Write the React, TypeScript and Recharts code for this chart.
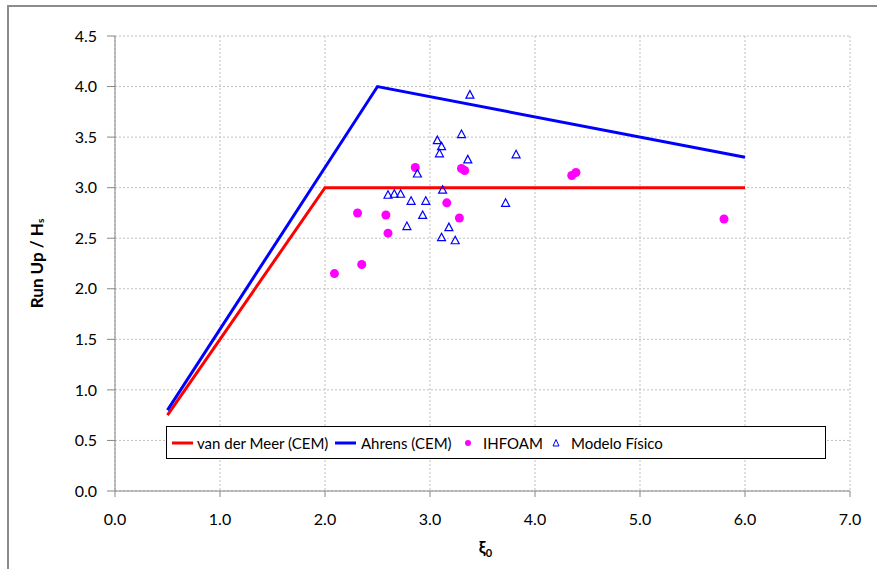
import React from 'react'
import {
  ScatterChart,
  Scatter,
  XAxis,
  YAxis,
  CartesianGrid
} from 'recharts'

// design curves (xi0, R/Hs)
const vanDerMeerX = [0.5, 2.0, 6.0]
const vanDerMeerY = [0.75, 3.0, 3.0]
const ahrensX = [0.5, 2.5, 6.0]
const ahrensY = [0.8, 4.0, 3.3]

// numerical results
const ihfoamX = [2.86, 3.30, 3.33, 2.31, 2.58, 3.16, 3.28, 2.60, 2.09, 2.35, 4.39, 4.35, 5.80]
const ihfoamY = [3.20, 3.19, 3.17, 2.75, 2.73, 2.85, 2.70, 2.55, 2.15, 2.24, 3.15, 3.12, 2.69]

// physical model
const fisicoX = [3.38, 3.30, 3.07, 3.11, 3.09, 3.82, 3.36, 2.88, 3.12, 2.60, 2.66, 2.72, 2.82, 2.96, 3.72, 2.93, 2.78, 3.18, 3.11, 3.24]
const fisicoY = [3.92, 3.53, 3.47, 3.41, 3.34, 3.33, 3.28, 3.14, 2.98, 2.93, 2.94, 2.94, 2.87, 2.87, 2.85, 2.73, 2.62, 2.61, 2.51, 2.48]

const xTicks = [0, 1, 2, 3, 4, 5, 6, 7]
const yTicks = [0, 0.5, 1, 1.5, 2, 2.5, 3, 3.5, 4, 4.5]

const zip = (xs: number[], ys: number[]) => xs.map((x, i) => ({ x, y: ys[i] }))

const FONT = 'Lato, "Open Sans", sans-serif'
const AXIS_GRAY = '#868686'

const Triangle = (props: any) => {
  const { cx, cy } = props
  if (cx == null || cy == null) return <g />
  return (
    <polygon
      points={`${cx},${cy - 4} ${cx - 4},${cy + 3.5} ${cx + 4},${cy + 3.5}`}
      fill="none"
      stroke="#0000ff"
      strokeWidth={1.2}
    />
  )
}

const Dot = (props: any) => {
  const { cx, cy } = props
  if (cx == null || cy == null) return <g />
  return <circle cx={cx} cy={cy} r={4.5} fill="#ff00ff" />
}

const NoShape = () => <g />

const YTitle = (props: any) => {
  const { viewBox } = props
  const cy = viewBox.y + viewBox.height / 2
  const cx = 36
  return (
    <text
      x={cx}
      y={cy}
      transform={`rotate(-90 ${cx} ${cy})`}
      textAnchor="middle"
      dominantBaseline="central"
      fontFamily={FONT}
      fontWeight="bold"
      fontSize={17}
      fill="#000"
    >
      Run Up / H<tspan fontSize={10} dy={4}>s</tspan>
    </text>
  )
}

const XTitle = (props: any) => {
  const { viewBox } = props
  const cx = viewBox.x + viewBox.width / 2 + 3
  return (
    <text
      x={cx}
      y={553}
      textAnchor="middle"
      fontFamily={FONT}
      fontWeight="bold"
      fontSize={17}
      fill="#000"
    >
      ξ<tspan fontSize={11} dy={4}>0</tspan>
    </text>
  )
}

const item = (left: number): React.CSSProperties => ({
  position: 'absolute',
  left,
  top: '50%',
  transform: 'translateY(-50%)',
  whiteSpace: 'nowrap'
})

const LegendBox = () => (
  <div
    style={{
      position: 'absolute',
      left: 166,
      top: 426,
      border: '1px solid #000',
      background: '#fff',
      height: 33,
      width: 660,
      boxSizing: 'border-box',
      fontFamily: FONT,
      fontSize: 15,
      color: '#000'
    }}
  >
    <span style={{ ...item(5), width: 21, height: 3, background: '#ff0000' }} />
    <span style={item(30)}>van der Meer (CEM)</span>
    <span style={{ ...item(168), width: 21, height: 3, background: '#0000ff' }} />
    <span style={item(194)}>Ahrens (CEM)</span>
    <svg width={10} height={10} style={item(296)}>
      <circle cx={5} cy={5} r={3} fill="#ff00ff" />
    </svg>
    <span style={item(316)}>IHFOAM</span>
    <svg width={10} height={10} style={item(384)}>
      <polygon points="5,1.5 2,8 8,8" fill="none" stroke="#0000ff" strokeWidth={1} />
    </svg>
    <span style={item(404)}>Modelo Físico</span>
  </div>
)

export default function App() {
  return (
    <div style={{ position: 'absolute', left: 0, top: 0, width: 877, height: 569, overflow: 'hidden', background: '#fff' }}>
      <div
        style={{
          position: 'absolute',
          left: 7,
          top: 5,
          width: 900,
          height: 600,
          border: '2px solid #8c8c8c'
        }}
      />
      <div style={{ position: 'absolute', left: 0, top: 0 }}>
        <ScatterChart width={877} height={569} margin={{ top: 36, right: 27, bottom: 10, left: 40 }}>
          <CartesianGrid stroke="#bfbfbf" strokeDasharray="2 2" />
          <XAxis
            type="number"
            dataKey="x"
            domain={[0, 7]}
            ticks={xTicks}
            interval={0}
            tickFormatter={(v: number) => v.toFixed(1)}
            height={68}
            stroke={AXIS_GRAY}
            tickSize={6}
            tickMargin={17}
            tick={{ fill: '#000', fontFamily: FONT, fontSize: 16 }}
            allowDataOverflow
            label={<XTitle />}
          />
          <YAxis
            type="number"
            dataKey="y"
            domain={[0, 4.5]}
            ticks={yTicks}
            interval={0}
            tickFormatter={(v: number) => v.toFixed(1)}
            width={75}
            stroke={AXIS_GRAY}
            tickSize={8}
            tickMargin={10}
            tick={{ fill: '#000', fontFamily: FONT, fontSize: 16 }}
            allowDataOverflow
            label={<YTitle />}
          />
          <Scatter
            name="van der Meer (CEM)"
            data={zip(vanDerMeerX, vanDerMeerY)}
            line={{ stroke: '#ff0000', strokeWidth: 3 }}
            lineType="joint"
            shape={NoShape}
            isAnimationActive={false}
          />
          <Scatter
            name="Ahrens (CEM)"
            data={zip(ahrensX, ahrensY)}
            line={{ stroke: '#0000ff', strokeWidth: 3 }}
            lineType="joint"
            shape={NoShape}
            isAnimationActive={false}
          />
          <Scatter name="IHFOAM" data={zip(ihfoamX, ihfoamY)} shape={Dot} isAnimationActive={false} />
          <Scatter name="Modelo Físico" data={zip(fisicoX, fisicoY)} shape={Triangle} isAnimationActive={false} />
        </ScatterChart>
      </div>
      <LegendBox />
    </div>
  )
}
